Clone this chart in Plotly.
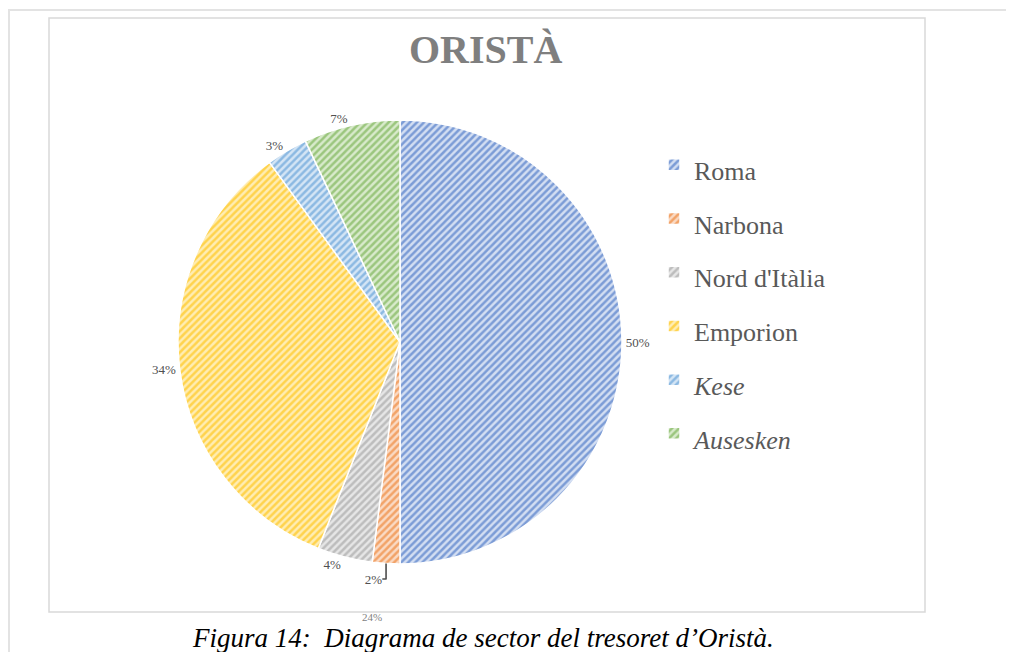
import plotly.graph_objects as go

categories = ["Roma", "Narbona", "Nord d'Itàlia", "Emporion", "<i>Kese</i>", "<i>Ausesken</i>"]
values = [50, 2, 4, 34, 3, 7]
fg_colors = ["#7C9CD6", "#F2A368", "#BDBDBD", "#FFD34D", "#8CB9E2", "#9BC67E"]
bg_colors = ["#D3DEF2", "#FADAC4", "#E6E6E6", "#FFEDB3", "#D4E5F5", "#D8EACB"]
title_text = "ORISTÀ"
caption_text = "Figura 14:  Diagrama de sector del tresoret d\u2019Oristà."
stray_label = "24%"

W, H = 1014, 652
# page body margin offset (html body has 8px margin)
OX, OY = 8, 8


def px(x):
    return (x - OX) / W


def py(y):
    return 1 - (y - OY) / H


cx, cy, r = 400, 342, 222

legend_labels = [f"<span style='font-size:26px'>{c}</span>" for c in categories]

fig = go.Figure()
fig.add_trace(go.Pie(
    labels=legend_labels,
    values=values,
    sort=False,
    direction="clockwise",
    rotation=0,
    textinfo="percent",
    textposition="outside",
    texttemplate="%{percent:.0%}",
    textfont=dict(family="Liberation Serif", size=13, color="#505050"),
    marker=dict(
        colors=bg_colors,
        line=dict(color="white", width=1.5),
        pattern=dict(shape="/", fgcolor=fg_colors, bgcolor=bg_colors,
                     size=5, solidity=0.5, fillmode="replace"),
    ),
    domain=dict(x=[px(cx - r), px(cx + r)], y=[py(cy + r), py(cy - r)]),
    showlegend=True,
    hoverinfo="label+percent",
))

fig.update_layout(
    width=W, height=H,
    margin=dict(l=0, r=0, t=0, b=0),
    paper_bgcolor="white",
    plot_bgcolor="white",
    showlegend=True,
    legend=dict(
        x=px(654), xanchor="left", y=py(133), yanchor="top",
        font=dict(family="Liberation Serif", size=39, color="#595959"),
        bgcolor="rgba(0,0,0,0)",
    ),
    shapes=[
        dict(type="rect", xref="paper", yref="paper", x0=px(49), x1=px(925),
             y0=py(612), y1=py(18), line=dict(color="#D9D9D9", width=1.5)),
        dict(type="line", xref="paper", yref="paper", x0=px(8), x1=1, y0=py(10), y1=py(10),
             line=dict(color="#E3E3E3", width=2)),
        dict(type="line", xref="paper", yref="paper", x0=px(9), x1=px(9), y0=0, y1=py(10),
             line=dict(color="#E3E3E3", width=2)),
    ],
    annotations=[
        dict(text=f"<b>{title_text}</b>", xref="paper", yref="paper", x=px(485), y=py(50),
             xanchor="center", yanchor="middle", showarrow=False,
             font=dict(family="Liberation Serif", size=40, color="#7F7F7F")),
        dict(text=stray_label, xref="paper", yref="paper", x=px(372), y=py(617),
             xanchor="center", yanchor="middle", showarrow=False,
             font=dict(family="Liberation Serif", size=11, color="#7F7F7F")),
        dict(text=f"<i>{caption_text}</i>", xref="paper", yref="paper", x=px(483), y=py(638),
             xanchor="center", yanchor="middle", showarrow=False,
             font=dict(family="Liberation Serif", size=27, color="black")),
    ],
)

fig.write_html("out.html")
